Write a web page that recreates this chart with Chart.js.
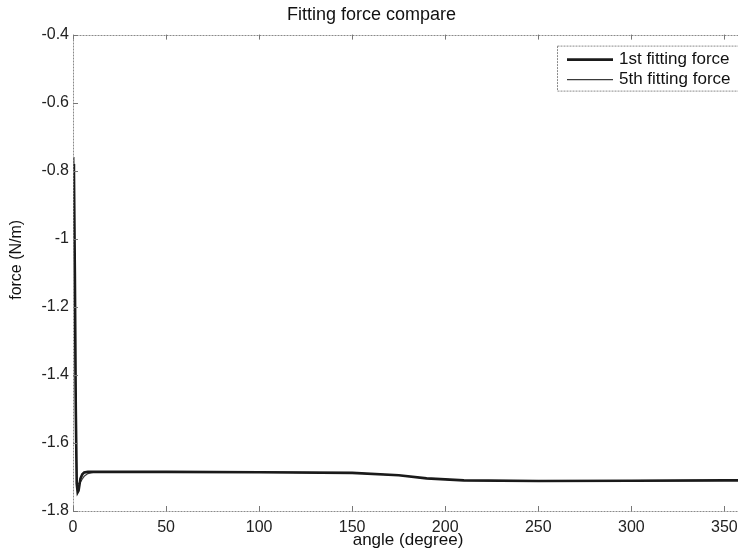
<!DOCTYPE html>
<html>
<head>
<meta charset="utf-8">
<script src="https://cdn.jsdelivr.net/npm/chart.js@4.4.1/dist/chart.umd.min.js"></script>
<style>
  html, body { margin: 0; padding: 0; background: #fff; overflow: hidden; }
  #wrap { width: 738px; height: 560px; overflow: hidden; position: relative; }
  #c { position: absolute; left: 0; top: 0; }
</style>
</head>
<body>
<div id="wrap"><canvas id="c" width="780" height="560"></canvas></div>
<script>
// ---- data ----
const angles1 = [0, 0.5, 1, 1.5, 2, 2.5, 3, 4, 5, 6, 8, 10, 20, 50, 100, 150, 175, 190, 210, 250, 300, 350, 360];
const force1  = [-0.78, -0.80, -1.10, -1.50, -1.72, -1.745, -1.74, -1.705, -1.692, -1.687, -1.685, -1.685, -1.685, -1.685, -1.686, -1.688, -1.695, -1.704, -1.71, -1.712, -1.711, -1.71, -1.71];
const angles2 = [0, 0.5, 1, 1.5, 2, 2.5, 3, 4, 5, 6, 8, 10, 12, 20, 50, 100, 150, 175, 190, 210, 250, 300, 350, 360];
const force2  = [-0.76, -0.85, -1.20, -1.55, -1.70, -1.718, -1.72, -1.715, -1.706, -1.698, -1.69, -1.687, -1.686, -1.685, -1.685, -1.686, -1.688, -1.695, -1.704, -1.71, -1.712, -1.711, -1.71, -1.71];
const seriesNames = ['1st fitting force', '5th fitting force'];
const xTicks = [0, 50, 100, 150, 200, 250, 300, 350];
const yTicks = [-0.4, -0.6, -0.8, -1, -1.2, -1.4, -1.6, -1.8];
const yTitle = 'force (N/m)';

const FONT = '"Liberation Sans", Arial, sans-serif';

function pts(xs, ys) { return xs.map((x, i) => ({ x: x, y: ys[i] })); }

const matlabFrame = {
  id: 'matlabFrame',
  afterDraw(chart) {
    const { ctx, chartArea: a, scales } = chart;
    ctx.save();
    // box
    ctx.strokeStyle = '#8a8a8a';
    ctx.lineWidth = 1;
    ctx.setLineDash([2, 1]);
    ctx.strokeRect(Math.round(a.left) + 0.5, Math.round(a.top) + 0.5, Math.round(a.right - a.left), Math.round(a.bottom - a.top));
    ctx.setLineDash([]);
    // inward ticks
    ctx.strokeStyle = '#777';
    const L = 5;
    ctx.beginPath();
    xTicks.forEach(v => {
      const px = Math.round(scales.x.getPixelForValue(v)) + 0.5;
      ctx.moveTo(px, a.bottom); ctx.lineTo(px, a.bottom - L);
      ctx.moveTo(px, a.top); ctx.lineTo(px, a.top + L);
    });
    yTicks.forEach(v => {
      const py = Math.round(scales.y.getPixelForValue(v)) + 0.5;
      ctx.moveTo(a.left, py); ctx.lineTo(a.left + L, py);
      ctx.moveTo(a.right, py); ctx.lineTo(a.right - L, py);
    });
    ctx.stroke();
    // y axis title
    ctx.save();
    ctx.translate(17, (a.top + a.bottom) / 2 - 13);
    ctx.rotate(-Math.PI / 2);
    ctx.font = '16px ' + FONT;
    ctx.fillStyle = '#111';
    ctx.textAlign = 'center';
    ctx.textBaseline = 'middle';
    ctx.fillText(yTitle, 0, 0);
    ctx.restore();
    // legend box
    const bx = a.right - 186, by = a.top + 11, bw = 220, bh = 45;
    ctx.fillStyle = '#fff';
    ctx.fillRect(bx, by, bw, bh);
    ctx.strokeStyle = '#8a8a8a';
    ctx.setLineDash([2, 1]);
    ctx.strokeRect(bx + 0.5, by + 0.5, bw, bh);
    ctx.setLineDash([]);
    ctx.font = '17px ' + FONT;
    ctx.textBaseline = 'middle';
    chart.data.datasets.forEach((ds, i) => {
      const yy = by + 14 + i * 20;
      ctx.strokeStyle = ds.borderColor;
      ctx.lineWidth = ds.borderWidth;
      ctx.beginPath();
      ctx.moveTo(bx + 10, yy); ctx.lineTo(bx + 56, yy);
      ctx.stroke();
      ctx.fillStyle = '#111';
      ctx.fillText(ds.label, bx + 62, yy);
    });
    ctx.restore();
  }
};

new Chart(document.getElementById('c'), {
  type: 'line',
  data: {
    datasets: [
      { label: seriesNames[0], data: pts(angles1, force1), borderColor: '#1a1a1a', borderWidth: 2.6, pointRadius: 0, tension: 0 },
      { label: seriesNames[1], data: pts(angles2, force2), borderColor: '#3a3a3a', borderWidth: 1.2, pointRadius: 0, tension: 0 }
    ]
  },
  options: {
    responsive: false,
    animation: false,
    devicePixelRatio: 1,
    layout: { padding: { left: 0, right: 37, top: 0, bottom: 0 } },
    plugins: {
      legend: { display: false },
      tooltip: { enabled: false },
      title: {
        display: true,
        text: 'Fitting force compare',
        color: '#111',
        font: { family: FONT, size: 18, weight: 'normal' },
        padding: { top: 4, bottom: 9 }
      }
    },
    scales: {
      x: {
        type: 'linear',
        min: 0, max: 360,
        afterBuildTicks(s) { s.ticks = xTicks.map(v => ({ value: v })); },
        afterFit(s) { s.height = 49; },
        grid: { display: true, drawOnChartArea: false, drawTicks: false },
        border: { display: false },
        ticks: { color: '#222', font: { family: FONT, size: 16 }, padding: 7, maxRotation: 0, autoSkip: false },
        title: { display: true, text: 'angle (degree)', color: '#111', font: { family: FONT, size: 17 }, padding: { top: 0, bottom: 9 } }
      },
      y: {
        type: 'linear',
        min: -1.8, max: -0.4,
        afterBuildTicks(s) { s.ticks = yTicks.map(v => ({ value: v })); },
        afterFit(s) { s.width = 73; },
        grid: { display: true, drawOnChartArea: false, drawTicks: false },
        border: { display: false },
        ticks: {
          color: '#222', font: { family: FONT, size: 16 }, padding: 4, autoSkip: false,
          callback: v => String(Number(v.toFixed(1)))
        },
        title: { display: false }
      }
    }
  },
  plugins: [matlabFrame]
});
</script>
</body>
</html>
